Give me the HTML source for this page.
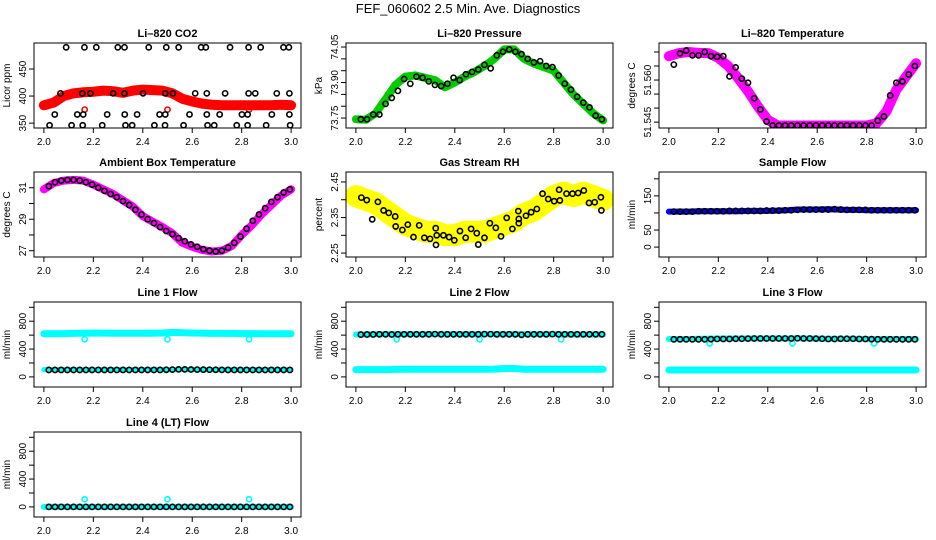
<!DOCTYPE html>
<html><head><meta charset="utf-8">
<style>
html,body{margin:0;padding:0;background:#fff;}
svg{display:block;font-family:"Liberation Sans",sans-serif;}
</style></head>
<body>
<svg id="chart" width="936" height="540" viewBox="0 0 936 540" xmlns="http://www.w3.org/2000/svg">
<defs id="defs"></defs>
<text x="468" y="13" text-anchor="middle" font-size="13">FEF_060602  2.5 Min. Ave. Diagnostics</text>
</svg>
<script>
// ---- data ----
const xColored = [2.00,2.04,2.08,2.12,2.16,2.20,2.24,2.28,2.32,2.36,2.40,2.44,2.48,2.52,2.56,2.60,2.64,2.68,2.72,2.76,2.80,2.84,2.88,2.92,2.96,3.00];
const xBlack = [2.02,2.045,2.07,2.095,2.12,2.145,2.17,2.195,2.22,2.245,2.27,2.295,2.32,2.345,2.37,2.395,2.42,2.445,2.47,2.495,2.52,2.545,2.57,2.595,2.62,2.645,2.67,2.695,2.72,2.745,2.77,2.795,2.82,2.845,2.87,2.895,2.92,2.945,2.97,2.995];
const xTicks = [2.0,2.2,2.4,2.6,2.8,3.0];
const xTickLabels = ["2.0","2.2","2.4","2.6","2.8","3.0"];

const co2Red = [383,388,400,405,407,408,410,409,406,410,412,411,410,405,395,390,386,384,383,383,383,383,383,383,384,383];
const co2BlackX490 = [2.09,2.164,2.212,2.299,2.326,2.424,2.495,2.545,2.636,2.655,2.753,2.828,2.877,2.969,2.991];
const co2BlackX405 = [2.067,2.155,2.188,2.28,2.326,2.401,2.491,2.522,2.612,2.659,2.733,2.828,2.855,2.942,2.993];
const co2BlackX365 = [2.044,2.135,2.159,2.256,2.327,2.377,2.468,2.491,2.589,2.659,2.711,2.801,2.824,2.922,2.993];
const co2BlackX345 = [2.023,2.112,2.157,2.236,2.33,2.357,2.447,2.49,2.565,2.662,2.689,2.78,2.824,2.899,2.996];
const co2Levels = [490,405,366,346];
const outlierX = [2.165,2.5,2.83];
const co2Outliers = [375,375,375];

const pressGreen = [73.745,73.743,73.77,73.83,73.89,73.925,73.93,73.92,73.91,73.88,73.90,73.925,73.945,73.97,74.00,74.04,74.04,74.00,73.98,73.965,73.95,73.90,73.85,73.81,73.77,73.74];
const pressBlack = [73.745,73.745,73.765,73.765,73.81,73.835,73.865,73.915,73.895,73.925,73.92,73.905,73.89,73.885,73.895,73.92,73.91,73.935,73.945,73.955,73.975,73.96,74.015,74.03,74.04,74.03,74.02,74.0,73.985,73.99,73.97,73.965,73.93,73.895,73.87,73.84,73.815,73.795,73.76,73.745];

const tempMag = [51.5685,51.5696,51.570,51.5697,51.5696,51.5679,51.565,51.5607,51.556,51.5506,51.5458,51.5438,51.5438,51.5438,51.5438,51.5438,51.5438,51.5438,51.5438,51.5438,51.5438,51.5446,51.5488,51.5565,51.5613,51.566];
const tempBlack = [51.5655,51.5695,51.5705,51.5688,51.5688,51.570,51.5685,51.5683,51.5685,51.5613,51.5645,51.5605,51.559,51.5535,51.5495,51.5452,51.5438,51.5438,51.5438,51.5438,51.5438,51.5438,51.5438,51.5438,51.5438,51.5438,51.5438,51.5438,51.5438,51.5438,51.5438,51.5438,51.5438,51.5455,51.547,51.5545,51.559,51.5595,51.562,51.565];

const ambMag = [30.9,31.3,31.45,31.5,31.45,31.2,30.9,30.6,30.2,29.8,29.2,28.85,28.5,28.1,27.5,27.25,27.05,26.95,27.0,27.3,28.0,28.6,29.3,29.9,30.5,30.9];
const ambBlack = [31.1,31.35,31.45,31.5,31.5,31.45,31.35,31.2,31.0,30.8,30.6,30.4,30.15,29.9,29.6,29.3,29.0,28.75,28.5,28.25,28.05,27.8,27.6,27.4,27.25,27.1,27.0,26.95,27.0,27.2,27.5,27.9,28.4,28.9,29.3,29.7,30.1,30.4,30.7,30.9];

const rhYellow = [2.41,2.40,2.39,2.37,2.35,2.33,2.32,2.31,2.31,2.30,2.30,2.31,2.31,2.31,2.32,2.33,2.34,2.36,2.37,2.39,2.41,2.42,2.41,2.42,2.41,2.40];
const rhBlackX = [2.022,2.044,2.066,2.089,2.112,2.133,2.159,2.161,2.188,2.21,2.233,2.256,2.277,2.3,2.323,2.327,2.324,2.354,2.377,2.398,2.421,2.444,2.466,2.489,2.495,2.52,2.542,2.566,2.587,2.61,2.633,2.657,2.659,2.659,2.688,2.709,2.732,2.755,2.778,2.802,2.822,2.825,2.852,2.876,2.899,2.922,2.943,2.966,2.991,2.993];
const rhBlackY = [2.406,2.399,2.345,2.394,2.37,2.363,2.353,2.325,2.315,2.33,2.295,2.328,2.293,2.29,2.32,2.30,2.273,2.30,2.295,2.286,2.312,2.293,2.318,2.306,2.274,2.293,2.334,2.321,2.297,2.349,2.318,2.368,2.346,2.334,2.355,2.365,2.374,2.417,2.402,2.396,2.428,2.398,2.417,2.417,2.419,2.426,2.391,2.393,2.407,2.37];

const sampleBlue = [104,104,104,105,105,105,105,105,106,106,106,107,108,110,110,110,111,110,109,109,108,108,108,108,108,108];
const sampleBlack = [104,104,104,104,105,105,105,105,105,106,106,106,106,106,106,107,107,107,108,108,109,110,110,110,110,110,111,110,109,109,109,109,108,108,108,108,108,108,108,108];

const line1CyanHigh = [620,620,622,625,628,630,628,628,628,628,628,628,630,640,635,630,628,625,625,625,622,622,620,620,620,620];
const line1Black = [100,100,100,100,100,100,100,100,100,100,100,100,100,100,100,100,100,100,100,102,105,108,108,106,105,104,103,102,101,100,100,100,100,100,100,100,100,100,100,100];
const line1Outliers = [540,540,540];

const line2CyanHigh = [610,610,612,612,612,612,612,612,612,612,612,612,612,612,612,612,615,612,612,612,612,610,610,610,610,610];
const line2CyanLow = [105,105,105,105,108,110,110,110,110,110,110,110,110,110,112,120,120,110,110,110,110,110,110,110,110,110];
const line2Black = [608,610,610,612,612,610,612,612,612,612,612,612,615,612,612,612,612,612,612,612,615,615,612,612,612,612,605,612,612,612,612,615,612,612,612,612,612,612,612,612];
const line2Outliers = [540,540,540];

const line3CyanHigh = [545,545,545,548,550,552,552,552,552,552,552,552,552,555,552,550,548,548,548,548,545,545,545,545,545,545];
const line3CyanLow = [100,100,100,100,100,100,100,100,100,100,100,100,100,100,100,100,100,100,100,100,100,100,100,100,100,100];
const line3Black = [540,540,540,540,540,540,542,545,545,545,548,548,550,552,552,552,552,552,552,552,555,552,552,550,548,545,545,548,548,548,545,545,542,540,540,540,540,540,540,540];
const line3Outliers = [480,480,480];

const line4Cyan = [0,0,0,0,0,0,0,0,0,0,0,0,0,0,0,0,0,0,0,0,0,0,0,0,0,0];
const line4Black = [0,0,0,0,0,0,0,0,0,0,0,0,0,0,0,0,0,0,0,0,0,0,0,0,0,0,0,0,0,0,0,0,0,0,0,0,0,0,0,0];
const line4Outliers = [110,110,110];

const flowTicks = [0,200,400,600,800,1000];
const flowLabels = ["0","","400","","800",""];

// ---- layout ----
const svg = document.getElementById('chart');
const defs = document.getElementById('defs');
const NS = 'http://www.w3.org/2000/svg';
const colL = [34,346,659], W = 267, rowT = [43,172,302,432], H = 85;
function mk(tag, attrs, parent){ const e=document.createElementNS(NS,tag); for(const k in attrs) e.setAttribute(k,attrs[k]); (parent||svg).appendChild(e); return e; }

function panel(id, col, row, title, ylab, ymin, ymax, yTicks, yLabels){
  const g = mk('g',{});
  
  
  const L=colL[col], T=rowT[row];
  const sx = v => L + (v-1.96)/(1.08)*W;
  const sy = v => T + H - (v-ymin)/(ymax-ymin)*H;
  const cp = mk('clipPath',{id:'clip-'+id},defs);
  mk('rect',{x:L+0.5,y:T+0.5,width:W-1,height:H-1},cp);
  const t = mk('text',{x:L+W/2,y:T-6,'text-anchor':'middle','font-size':'11','font-weight':'bold'},g);
  t.textContent = title;
  
  
  const xa = mk('g',{},g);
  
  
  xTicks.forEach((v,i)=>{
    mk('line',{x1:sx(v),x2:sx(v),y1:T+H,y2:T+H+5,stroke:'#000'},xa);
    const tl = mk('text',{x:sx(v),y:T+H+17,'text-anchor':'middle','font-size':'10'},xa);
    tl.textContent = xTickLabels[i];
  });
  const ya = mk('g',{},g);
  
  
  yTicks.forEach((v,i)=>{
    mk('line',{x1:L-5,x2:L,y1:sy(v),y2:sy(v),stroke:'#000'},ya);
    if(yLabels[i]){
      const tl = mk('text',{x:0,y:0,'text-anchor':'middle','font-size':'10',transform:`translate(${L-8},${sy(v)}) rotate(-90)`},ya);
      tl.textContent = yLabels[i];
    }
  });
  const yt = mk('text',{x:0,y:0,'text-anchor':'middle','font-size':'10',transform:`translate(${L-24},${T+H/2}) rotate(-90)`},g);
  yt.textContent = ylab;
  
  
  const clip = mk('g',{'clip-path':'url(#clip-'+id+')'},g);
  const box = mk('rect',{x:L,y:T,width:W,height:H,fill:'none',stroke:'#000','stroke-width':'1'},g);
  
  
  return {g:clip, sx, sy};
}
function band(p, name, xs, ys, color, w){
  const pts = xs.map((x,i)=>p.sx(x)+','+p.sy(ys[i])).join(' ');
  const pl = mk('polyline',{points:pts,fill:'none',stroke:color,'stroke-width':w,'stroke-linejoin':'round','stroke-linecap':'round'},p.g);
  
  
}
function dots(p, name, xs, ys, color){
  const g = mk('g',{},p.g);
  
  
  xs.forEach((x,i)=>{
    mk('circle',{cx:p.sx(x),cy:p.sy(ys[i]),r:2.6,fill:'none',stroke:color,'stroke-width':'1.6'},g);
  });
}
const fill = (xs,v)=>xs.map(()=>v);

// CO2
let p = panel('co2',0,0,'Li\u2013820 CO2','Licor ppm',341,498,[350,400,450],['350','400','450']);
band(p,'co2-red-series',xColored,co2Red,'#ff0000',10);
dots(p,'co2-outliers',outlierX,co2Outliers,'#ff0000');
dots(p,'co2-black-490',co2BlackX490,fill(co2BlackX490,co2Levels[0]),'#000');
dots(p,'co2-black-405',co2BlackX405,fill(co2BlackX405,co2Levels[1]),'#000');
dots(p,'co2-black-366',co2BlackX365,fill(co2BlackX365,co2Levels[2]),'#000');
dots(p,'co2-black-346',co2BlackX345,fill(co2BlackX345,co2Levels[3]),'#000');

// Pressure
p = panel('pressure',1,0,'Li\u2013820 Pressure','kPa',73.708,74.067,[73.75,73.80,73.85,73.90,73.95,74.00,74.05],['73.75','','','73.90','','','74.05']);
band(p,'pressure-green-series',xColored,pressGreen,'#00cc00',8);
dots(p,'pressure-black-series',xBlack,pressBlack,'#000');

// Temperature
p = panel('temperature',2,0,'Li\u2013820 Temperature','degrees C',51.5429,51.5732,[51.545,51.550,51.555,51.560,51.565,51.570],['51.545','','','51.560','','']);
band(p,'temperature-magenta-series',xColored,tempMag,'#ff00ff',10);
dots(p,'temperature-black-series',xBlack,tempBlack,'#000');

// Ambient
p = panel('ambient',0,1,'Ambient Box Temperature','degrees C',26.6,32.0,[27,28,29,30,31],['27','','29','','31']);
band(p,'ambient-magenta-series',xColored,ambMag,'#ff00ff',8);
dots(p,'ambient-black-series',xBlack,ambBlack,'#000');

// RH
p = panel('rh',1,1,'Gas Stream RH','percent',2.239,2.478,[2.25,2.30,2.35,2.40,2.45],['2.25','','2.35','','2.45']);
band(p,'rh-yellow-series',xColored,rhYellow,'#ffff00',22);
dots(p,'rh-black-series',rhBlackX,rhBlackY,'#000');

// Sample flow
p = panel('sample-flow',2,1,'Sample Flow','ml/min',-29,220,[0,50,100,150,200],['0','50','','150','']);
band(p,'sample-blue-series',xColored,sampleBlue,'#0000ff',6);
dots(p,'sample-black-series',xBlack,sampleBlack,'#000');

// Line 1
p = panel('line1',0,2,'Line 1 Flow','ml/min',-145,1076,flowTicks,flowLabels);
band(p,'line1-cyan-high',xColored,line1CyanHigh,'#00ffff',7);
band(p,'line1-cyan-low',xColored,fill(xColored,105),'#00ffff',5);
dots(p,'line1-outliers',outlierX,line1Outliers,'#00ffff');
dots(p,'line1-black-series',xBlack,line1Black,'#000');

// Line 2
p = panel('line2',1,2,'Line 2 Flow','ml/min',-145,1076,flowTicks,flowLabels);
band(p,'line2-cyan-high',xColored,line2CyanHigh,'#00ffff',6);
band(p,'line2-cyan-low',xColored,line2CyanLow,'#00ffff',7);
dots(p,'line2-outliers',outlierX,line2Outliers,'#00ffff');
dots(p,'line2-black-series',xBlack,line2Black,'#000');

// Line 3
p = panel('line3',2,2,'Line 3 Flow','ml/min',-145,1076,flowTicks,flowLabels);
band(p,'line3-cyan-high',xColored,line3CyanHigh,'#00ffff',6);
band(p,'line3-cyan-low',xColored,line3CyanLow,'#00ffff',7);
dots(p,'line3-outliers',outlierX,line3Outliers,'#00ffff');
dots(p,'line3-black-series',xBlack,line3Black,'#000');

// Line 4
p = panel('line4',0,3,'Line 4 (LT) Flow','ml/min',-145,1076,flowTicks,flowLabels);
band(p,'line4-cyan-series',xColored,line4Cyan,'#00ffff',6);
dots(p,'line4-outliers',outlierX,line4Outliers,'#00ffff');
dots(p,'line4-black-series',xBlack,line4Black,'#000');
</script>
</body></html>
